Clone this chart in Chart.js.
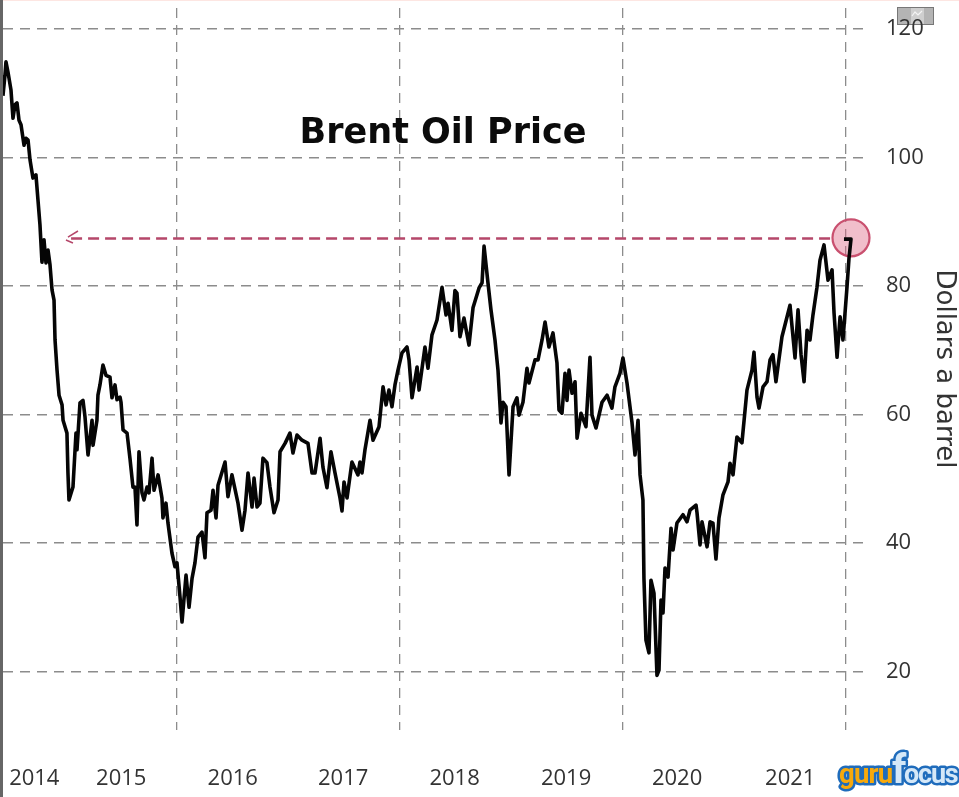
<!DOCTYPE html>
<html>
<head>
<meta charset="utf-8">
<title>Brent Oil Price</title>
<script src="https://cdn.jsdelivr.net/npm/chart.js@4"></script>
<style>html,body{margin:0;padding:0;background:#fff}canvas{display:block}</style>
</head>
<body>
<canvas id="c" width="959" height="797"></canvas>
<script>
const yearLabels = ['2014','2015','2016','2017','2018','2019','2020','2021'];
const yearLabelPositions = [2014.72,2015.5,2016.5,2017.49,2018.49,2019.49,2020.485,2021.5];
const gridYears = [2016,2018,2020,2022];
const priceTicks = [20,40,60,80,100,120];

const dates = [
2014.439,2014.457,2014.466,2014.484,2014.511,2014.529,2014.547,2014.565,2014.583,2014.601,2014.628,2014.646,2014.664,2014.682,2014.708,2014.735,2014.753,2014.771,2014.789,2014.807,2014.825,2014.843,2014.861,2014.879,2014.897,2014.906,2014.924,2014.942,2014.969,2014.978,
2015.013,2015.022,2015.031,2015.067,2015.094,2015.103,2015.130,2015.157,2015.175,2015.202,2015.238,2015.247,2015.282,2015.291,2015.309,2015.336,2015.363,2015.399,2015.417,2015.444,2015.462,2015.489,2015.498,2015.516,2015.552,2015.578,2015.605,2015.623,2015.641,2015.659,2015.686,2015.704,2015.731,2015.749,2015.776,2015.794,2015.830,2015.865,2015.874,2015.901,2015.919,2015.955,2015.982,
2016.000,2016.027,2016.045,2016.081,2016.108,2016.135,2016.161,2016.188,2016.224,2016.251,2016.269,2016.305,2016.323,2016.350,2016.368,2016.431,2016.457,2016.493,2016.547,2016.583,2016.610,2016.637,2016.673,2016.691,2016.718,2016.744,2016.771,2016.807,2016.834,2016.870,2016.906,2016.924,2016.969,
2017.013,2017.040,2017.076,2017.121,2017.175,2017.211,2017.238,2017.283,2017.309,2017.345,2017.381,2017.417,2017.462,2017.480,2017.498,2017.525,2017.569,2017.623,2017.641,2017.659,2017.686,2017.731,2017.758,2017.812,2017.848,2017.875,2017.901,2017.928,2017.955,2017.982,
2018.018,2018.063,2018.081,2018.108,2018.153,2018.171,2018.224,2018.251,2018.287,2018.332,2018.377,2018.413,2018.431,2018.466,2018.493,2018.511,2018.538,2018.574,2018.619,2018.655,2018.709,2018.736,2018.754,2018.789,2018.816,2018.852,2018.879,2018.906,2018.924,2018.951,2018.978,
2019.014,2019.049,2019.067,2019.103,2019.139,2019.157,2019.211,2019.238,2019.274,2019.301,2019.336,2019.372,2019.408,2019.426,2019.453,2019.480,2019.498,2019.516,2019.543,2019.570,2019.588,2019.623,2019.668,2019.704,2019.722,2019.758,2019.812,2019.857,2019.901,2019.928,2019.973,
2020.000,2020.036,2020.081,2020.108,2020.135,2020.153,2020.179,2020.188,2020.206,2020.233,2020.251,2020.278,2020.305,2020.323,2020.341,2020.359,2020.377,2020.404,2020.431,2020.449,2020.484,2020.538,2020.574,2020.601,2020.655,2020.664,2020.691,2020.709,2020.754,2020.781,2020.807,2020.834,2020.861,2020.897,2020.942,2020.960,2020.987,
2021.022,2021.067,2021.112,2021.157,2021.175,2021.202,2021.220,2021.256,2021.292,2021.319,2021.345,2021.372,2021.426,2021.498,2021.543,2021.570,2021.597,2021.624,2021.651,2021.677,2021.704,2021.740,2021.767,2021.803,2021.839,2021.875,2021.893,2021.920,2021.947,2021.973,
2022.009,2022.027,2022.045,2021.982];

const prices = [
109.6,112.8,114.9,113.3,110.5,106.1,108.2,108.5,105.8,105.1,101.9,103.0,102.7,99.6,96.8,97.3,93.4,89.5,83.7,87.2,83.6,85.6,83.3,79.4,77.8,71.6,66.9,63.0,61.5,59.1,
57.1,50.9,46.7,48.7,57.1,54.5,61.8,62.2,59.6,53.7,59.1,55.2,59.1,63.0,64.6,67.7,66.1,65.8,62.6,64.6,62.3,62.7,61.9,57.6,57.1,53.2,48.7,48.7,42.8,54.2,47.8,46.7,48.7,47.8,53.2,48.2,50.6,47.0,43.9,46.2,43.1,38.4,36.3,
36.9,31.6,27.7,35.0,30.0,34.5,36.9,40.9,41.7,37.7,44.7,45.1,48.2,43.9,49.0,52.6,47.2,50.6,46.2,42.0,45.1,50.9,45.6,50.1,45.6,46.2,53.2,52.5,48.7,44.7,46.7,54.2,55.5,
57.1,54.0,56.8,56.0,55.5,50.9,50.9,56.3,51.8,48.6,54.2,50.9,47.0,45.0,49.5,47.0,52.6,50.6,52.6,50.9,54.5,59.1,56.0,58.1,64.3,61.5,63.8,61.2,64.6,66.9,
69.6,70.5,68.5,62.6,67.4,63.8,70.5,67.2,72.4,74.7,79.8,75.5,77.3,73.1,79.3,78.9,72.1,75.0,70.8,76.6,79.7,80.5,86.2,80.5,76.3,71.6,66.9,58.7,61.9,61.2,50.6,
61.2,62.6,59.9,61.9,67.2,64.9,68.5,68.5,71.6,74.4,70.5,72.7,68.0,60.7,60.2,66.4,62.2,66.9,63.3,65.1,56.3,60.2,58.1,68.9,59.9,57.9,61.9,63.0,61.0,64.3,66.4,
68.8,64.9,58.7,53.7,59.1,50.6,46.7,34.5,24.9,22.9,34.2,32.2,19.4,20.2,31.1,29.1,36.1,34.7,42.3,38.9,43.1,44.4,43.3,45.1,45.9,44.7,39.7,43.3,39.4,43.3,43.1,37.5,43.9,47.5,49.5,52.4,50.6,
56.5,55.6,63.8,66.9,69.7,62.7,61.0,64.3,65.1,68.5,69.3,65.1,72.1,77.0,68.8,76.3,69.3,65.1,73.1,71.6,75.5,79.8,84.0,86.4,80.9,82.5,75.8,68.9,75.2,71.6,
79.8,84.3,87.3,87.3];

const refLineDates = [2015.05,2021.86];
const refLinePrices = [87.4,87.4];
const arrowDates = [2015.112,2015.022,null,2015.004,2015.067];
const arrowPrices = [88.56,87.6,null,87.16,86.69];
const markerDates = [2022.045];
const markerPrices = [87.5];

const zip = (xs, ys) => xs.map((x,i) => ({x:x, y:ys[i]}));
const FONT = '"Open Sans", sans-serif';

const decor = {
  id:'decor',
  beforeDraw(chart){
    const c = chart.ctx;
    c.save();
    c.fillStyle='#fff'; c.fillRect(0,0,959,797);
    c.fillStyle='#fde6e2'; c.fillRect(0,0,959,1);
    c.fillStyle='#666'; c.fillRect(0,0,3,797);
    c.fillStyle='#b4b4b4'; c.fillRect(897,7,37,18);
    c.strokeStyle='#777'; c.lineWidth=1; c.strokeRect(897.5,7.5,36,17);
    c.fillStyle='#cfcfcf'; c.fillRect(911,8,13,16);
    c.strokeStyle='#f4f4f4'; c.lineWidth=1.2;
    c.beginPath(); c.moveTo(912,16); c.lineTo(915,12); c.lineTo(918,15); c.lineTo(922,11); c.stroke();
    c.restore();
  },
  afterDraw(chart){
    const c = chart.ctx;
    c.save();
    c.fillStyle='#0b0b0b';
    c.font='bold 35px "DejaVu Sans"';
    c.textAlign='center'; c.textBaseline='alphabetic';
    c.fillText('Brent Oil Price',443,143);
    c.lineJoin='round';
    c.textAlign='left';
    c.lineWidth=5; c.strokeStyle='#1f6cbc';
    const draw = (t,x,size,sp,fill) => {
      c.font='bold '+size+'px "Roboto"'; c.letterSpacing=sp+'px';
      c.strokeText(t,x,783);
      c.fillStyle=fill; c.fillText(t,x,783);
    };
    draw('f',892,40,0,'#d5e8f8');
    draw('ocus',904,27,-1.2,'#d5e8f8');
    draw('guru',839,27.5,-0.8,'#f7a90c');
    c.restore();
  }
};

new Chart(document.getElementById('c'),{
  type:'scatter',
  data:{datasets:[
    {data:zip(dates,prices),showLine:true,borderColor:'#050505',borderWidth:3.6,pointRadius:0,tension:0,borderJoinStyle:'round',order:1},
    {data:zip(markerDates,markerPrices),showLine:false,clip:false,pointRadius:18.5,pointBackgroundColor:'rgba(222,100,130,0.42)',pointBorderColor:'#c9506f',pointBorderWidth:2.2,order:2},
    {data:zip(refLineDates,refLinePrices),showLine:true,borderColor:'#b5476a',borderWidth:2.6,borderDash:[11,6],pointRadius:0,order:3},
    {data:zip(arrowDates,arrowPrices),showLine:true,spanGaps:false,borderColor:'#b5476a',borderWidth:1.5,pointRadius:0,order:4}
  ]},
  plugins:[decor],
  options:{
    responsive:false,animation:false,
    layout:{autoPadding:false,padding:{left:3,top:8,right:0,bottom:0}},
    plugins:{legend:{display:false},title:{display:false},tooltip:{enabled:false}},
    scales:{
      x:{type:'linear',position:'bottom',min:2014.4394,max:2022.1886,
        grid:{display:false,drawTicks:false},border:{display:false},
        afterBuildTicks(s){s.ticks=yearLabelPositions.map(v=>({value:v}));},
        afterFit(s){s.height=67;s.paddingLeft=0;s.paddingRight=0;},
        ticks:{autoSkip:false,maxRotation:0,minRotation:0,padding:36,color:'#333',font:{family:FONT,size:22},
          callback(v){return yearLabels[yearLabelPositions.indexOf(v)];}}
      },
      x2:{type:'linear',position:'bottom',min:2014.4394,max:2022.1886,
        border:{display:false,dash:[10,7]},
        grid:{color:'#8c8c8c',lineWidth:1.3,drawTicks:false},
        afterBuildTicks(s){s.ticks=gridYears.map(v=>({value:v}));},
        afterFit(s){s.height=0;s.paddingLeft=0;s.paddingRight=0;},
        ticks:{display:false}
      },
      y:{type:'linear',position:'right',min:10.89,max:123.27,
        border:{display:false,dash:[10,7]},
        grid:{color:'#8c8c8c',lineWidth:1.5,drawTicks:false},
        afterBuildTicks(s){s.ticks=priceTicks.map(v=>({value:v}));},
        afterFit(s){s.width=92;s.paddingTop=0;s.paddingBottom=0;},
        ticks:{autoSkip:false,padding:19,color:'#333',crossAlign:'near',font:{family:FONT,size:22}},
        title:{display:true,text:'Dollars a barrel',color:'#333',font:{family:'"DejaVu Sans"',size:26},padding:0}
      }
    }
  }
});
</script>
</body>
</html>
